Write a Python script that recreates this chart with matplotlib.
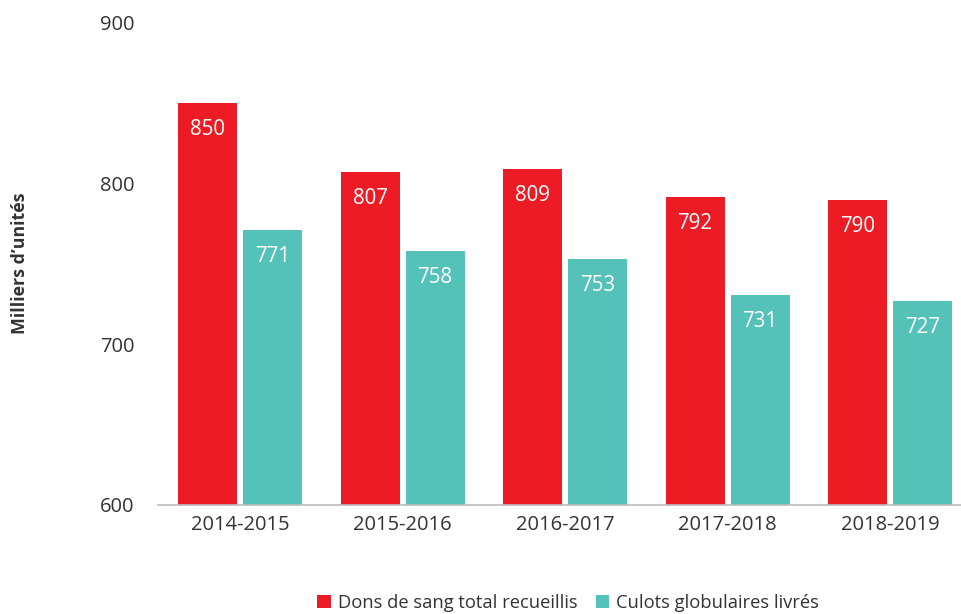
import matplotlib
matplotlib.use("Agg")
import matplotlib.pyplot as plt
import numpy as np

plt.rcParams['font.family'] = ['Open Sans', 'DejaVu Sans']

categories = ["2014-2015", "2015-2016", "2016-2017", "2017-2018", "2018-2019"]
dons = [850, 807, 809, 792, 790]
culots = [771, 758, 753, 731, 727]
series_names = ["Dons de sang total recueillis", "Culots globulaires livrés"]
colors = ["#ED1C24", "#55C2B9"]

fig = plt.figure(figsize=(9.62, 6.14), dpi=100)
ax = fig.add_axes([158/962, 1 - 505/614, 1 - 158/962, (505 - 23)/614])

x = np.arange(len(categories))
w = 0.363
off = 0.2
b1 = ax.bar(x - off, dons, width=w, color=colors[0], label=series_names[0], zorder=2)
b2 = ax.bar(x + off, culots, width=w, color=colors[1], label=series_names[1], zorder=2)

for bars, vals in ((b1, dons), (b2, culots)):
    for r, v in zip(bars, vals):
        ax.text(r.get_x() + r.get_width()/2, v - 16.5, f"{v}", ha="center", va="center",
                color="white", fontsize=14.8, zorder=3)

ax.set_ylim(600, 900)
ax.set_xlim(-0.505, 4.443)
ax.set_yticks([600, 700, 800, 900])
ax.set_xticks(x)
ax.set_xticklabels(categories)
ax.tick_params(axis='both', length=0, labelsize=14.5, colors="#333333")
ax.tick_params(axis='y', pad=17)
ax.tick_params(axis='x', pad=7)
for s in ["top", "right", "left"]:
    ax.spines[s].set_visible(False)
ax.spines["bottom"].set_color("#BBBBBB")
ax.spines["bottom"].set_linewidth(1.2)

fig.text(20/962, 1 - 263/614, "Milliers d\u2019unités", rotation=90, ha="center", va="center",
         fontsize=12.8, fontweight="bold", color="#333333")

leg = fig.legend(handles=[b1, b2], labels=series_names, loc="center", bbox_to_anchor=(568/962, 1 - 603/614),
                 ncol=2, frameon=False, fontsize=13.2, handlelength=0.75, handleheight=0.75,
                 handletextpad=0.35, columnspacing=1.0)
for t in leg.get_texts():
    t.set_color("#333333")

fig.savefig("out.png", dpi=100)
